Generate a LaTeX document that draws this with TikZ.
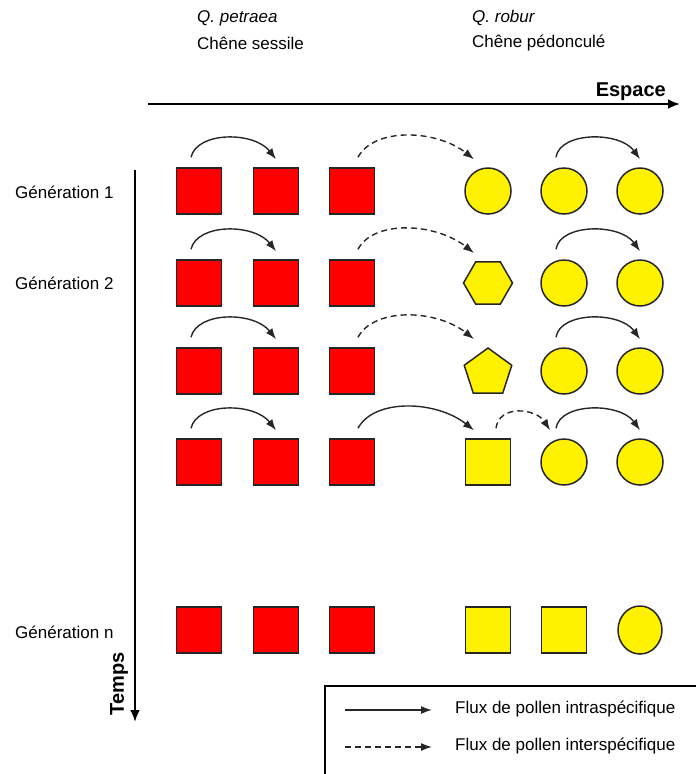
\documentclass[tikz,border=0pt]{standalone}
\usepackage{fontspec}
\setmainfont{Liberation Sans}
\usetikzlibrary{arrows.meta,shapes.geometric}
\begin{document}
\begin{tikzpicture}[x=1pt,y=-1pt,
  lbl/.style={font=\fontsize{17}{19}\selectfont, inner sep=0pt},
  axlbl/.style={font=\fontsize{20}{22}\selectfont\bfseries, inner sep=0pt},
  shp/.style={draw=black!85, line width=1.5pt, inner sep=0pt},
  redsq/.style={shp, fill=red, minimum width=45pt, minimum height=46pt},
  yelsq/.style={shp, fill=yellow, minimum width=45pt, minimum height=46pt},
  yelci/.style={shp, fill=yellow, circle, minimum size=46pt},
  yelhex/.style={shp, fill=yellow, regular polygon, regular polygon sides=6, minimum size=49pt},
  yelpent/.style={shp, fill=yellow, regular polygon, regular polygon sides=5, minimum size=50pt},
  flux/.style={line width=1.4pt, draw=black!85, -{Latex[length=11pt,width=8pt]}},
  fluxd/.style={flux, dash pattern=on 6pt off 4pt}
]
\useasboundingbox (0,0) rectangle (696,774);

% headers
\node[lbl, anchor=west] (qp) at (197,18) {\itshape Q. petraea};
\node[lbl, anchor=west] (cs) at (197,43) {Chêne sessile};
\node[lbl, anchor=west] (qr) at (472,18) {\itshape Q. robur};
\node[lbl, anchor=west] (cp) at (472,43) {Chêne pédonculé};

% axes
\coordinate (ex0) at (148,104);
\coordinate (ex1) at (680,104);
\draw[line width=2.4pt, -{Latex[length=12pt,width=10pt]}] (ex0) -- (ex1);
\node[axlbl, anchor=south east] (esp) at (666,101) {Espace};
\coordinate (ty0) at (135,170);
\coordinate (ty1) at (135,722);
\draw[line width=2.4pt, -{Latex[length=12pt,width=10pt]}] (ty0) -- (ty1);
\node[axlbl, rotate=90] (tps) at (119,684) {Temps};

% generation labels
\node[lbl, anchor=west] (g1) at (15,192) {Génération 1};
\node[lbl, anchor=west] (g2) at (15,283) {Génération 2};
\node[lbl, anchor=west] (gn) at (15,632) {Génération n};

% row 1
\node[redsq] (a1) at (199,191) {};
\node[redsq] (a2) at (276,191) {};
\node[redsq] (a3) at (352,191) {};
\node[yelci] (a4) at (488,191) {};
\node[yelci] (a5) at (564,191) {};
\node[yelci] (a6) at (640,191) {};
% row 2
\node[redsq] (b1) at (199,283) {};
\node[redsq] (b2) at (276,283) {};
\node[redsq] (b3) at (352,283) {};
\node[yelhex] (b4) at (488,283) {};
\node[yelci] (b5) at (564,283) {};
\node[yelci] (b6) at (640,283) {};
% row 3
\node[redsq] (c1) at (199,371) {};
\node[redsq] (c2) at (276,371) {};
\node[redsq] (c3) at (352,371) {};
\node[yelpent] (c4) at (488,373) {};
\node[yelci] (c5) at (564,371) {};
\node[yelci] (c6) at (640,371) {};
% row 4
\node[redsq] (d1) at (199,462) {};
\node[redsq] (d2) at (276,462) {};
\node[redsq] (d3) at (352,462) {};
\node[yelsq] (d4) at (488,462) {};
\node[yelci] (d5) at (564,462) {};
\node[yelci] (d6) at (640,462) {};
% row n
\node[redsq] (n1) at (199,630) {};
\node[redsq] (n2) at (276,630) {};
\node[redsq] (n3) at (352,630) {};
\node[yelsq] (n4) at (488,630) {};
\node[yelsq] (n5) at (564,630) {};
\node[yelci, minimum width=44pt, minimum height=48pt, ellipse] (n6) at (640,630) {};

% fluxes
\foreach \r in {a,b,c,d}{
  \draw[flux] ([shift={(-8,-10)}]\r1.north) .. controls +(6,-26) and +(-22,-28) .. ([shift={(0,-8)}]\r2.north);
  \draw[flux] ([shift={(-8,-10)}]\r5.north) .. controls +(4,-26) and +(-20,-28) .. ([shift={(0,-8)}]\r6.north);
}
\foreach \r in {a,b,c}{
  \draw[fluxd] ([shift={(6,-10)}]\r3.north) .. controls +(16,-30) and +(-38,-30) .. ([shift={(-14,-8)}]\r4.north);
}
\draw[flux] ([shift={(6,-10)}]d3.north) .. controls +(16,-30) and +(-38,-30) .. ([shift={(-14,-8)}]d4.north);
\draw[fluxd] ([shift={(8,-10)}]d4.north) .. controls +(3,-24) and +(-14,-22) .. ([shift={(-14,-8)}]d5.north);

% legend
\coordinate (lb0) at (325,686);
\draw[line width=1.2pt] (700,686) -- (lb0) -- (325,778);
\coordinate (l1a) at (345,710);
\coordinate (l1b) at (432,710);
\coordinate (l2a) at (345,747);
\coordinate (l2b) at (432,747);
\draw[flux] (l1a) -- (l1b);
\draw[fluxd] (l2a) -- (l2b);
\node[lbl, anchor=west] (t1) at (455,709) {Flux de pollen intraspécifique};
\node[lbl, anchor=west] (t2) at (455,746) {Flux de pollen interspécifique};
\end{tikzpicture}
\end{document}
